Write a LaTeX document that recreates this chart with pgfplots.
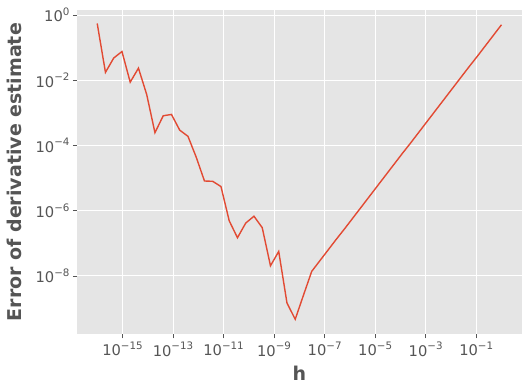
\documentclass[border=0pt]{standalone}
\usepackage{fontspec}
\setmainfont{DejaVu Sans}
\usepackage{pgfplots}
\usepackage{pgfplotstable}
\pgfplotsset{compat=1.18}
\definecolor{bgc}{HTML}{E5E5E5}
\definecolor{txt}{HTML}{555555}
\definecolor{lc}{HTML}{E24A33}
\newcommand{\tl}[1]{10\raisebox{0.45em}{\fontsize{10.3pt}{11pt}\selectfont #1}}
\pgfplotstableread{
lx ly
-16.0000 -0.26
-15.6735 -1.76
-15.3469 -1.32
-15.0204 -1.12
-14.6939 -2.06
-14.3673 -1.63
-14.0408 -2.44
-13.7143 -3.61
-13.3878 -3.09
-13.0612 -3.05
-12.7347 -3.53
-12.4082 -3.72
-12.0816 -4.36
-11.7551 -5.09
-11.4286 -5.10
-11.1020 -5.26
-10.7755 -6.31
-10.4490 -6.83
-10.1224 -6.38
-9.7959 -6.17
-9.4694 -6.52
-9.1429 -7.69
-8.8163 -7.25
-8.4898 -8.83
-8.1633 -9.33
-7.8367 -8.59
-7.5102 -7.86
-7.1837 -7.53
-6.8571 -7.20
-6.5306 -6.87
-6.2041 -6.55
-5.8776 -6.22
-5.5510 -5.89
-5.2245 -5.56
-4.8980 -5.23
-4.5714 -4.90
-4.2449 -4.57
-3.9184 -4.24
-3.5918 -3.92
-3.2653 -3.59
-2.9388 -3.26
-2.6122 -2.93
-2.2857 -2.60
-1.9592 -2.27
-1.6327 -1.94
-1.3061 -1.61
-0.9796 -1.29
-0.6531 -0.96
-0.3265 -0.63
0.0000 -0.30
}\errtab
\begin{document}
\begin{tikzpicture}
\path[use as bounding box] (-77pt,-56.7pt) rectangle (452pt,334.3pt);
\begin{axis}[
  at={(0,0)}, anchor=south west,
  scale only axis, width=444.7pt, height=324.3pt,
  xmode=log, ymode=log,
  xmin=1.585e-17, xmax=6.31,
  ymin=1.62e-10, ymax=1.42,
  axis background/.style={fill=bgc},
  axis line style={draw=none},
  grid=major, major grid style={white, line width=0.9pt},
  tick align=outside, tick pos=left,
  major tick length=4pt,
  every tick/.style={txt, line width=0.8pt},
  xtick={1e-15,1e-13,1e-11,1e-9,1e-7,1e-5,1e-3,1e-1},
  xticklabels={\tl{−15},\tl{−13},\tl{−11},\tl{−9},\tl{−7},\tl{−5},\tl{−3},\tl{−1}},
  ytick={1e-8,1e-6,1e-4,1e-2,1},
  yticklabels={\tl{−8},\tl{−6},\tl{−4},\tl{−2},\tl{0}},
  minor xtick={}, minor ytick={},
  ticklabel style={font=\fontsize{14.7pt}{16pt}\selectfont, text=txt},
  xlabel={h}, ylabel={Error of derivative estimate},
  every axis x label/.style={at={(axis description cs:0.5,-0.1409)}, anchor=base,
     font=\bfseries\fontsize{19pt}{20pt}\selectfont, text=txt},
  every axis y label/.style={at={(axis description cs:-0.1244,0.5)}, rotate=90, anchor=base,
     font=\bfseries\fontsize{19pt}{20pt}\selectfont, text=txt},
]
\addplot[lc, line width=1.4pt] table[x expr={10^(\thisrow{lx})}, y expr={10^(\thisrow{ly})}] {\errtab};
\end{axis}
\end{tikzpicture}
\end{document}
